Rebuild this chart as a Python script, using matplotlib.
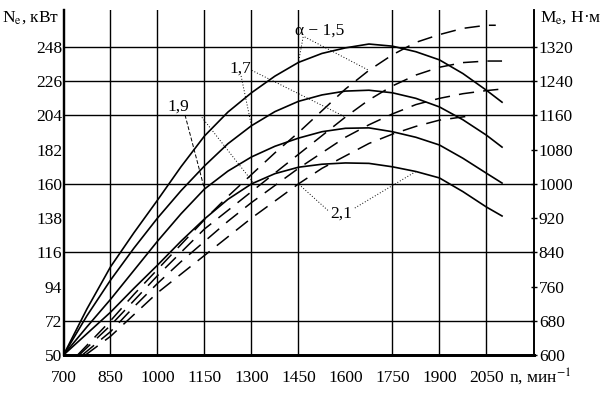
import matplotlib
matplotlib.use("Agg")
import matplotlib.pyplot as plt

plt.rcParams['font.family'] = ['Liberation Serif', 'DejaVu Serif']
plt.rcParams['mathtext.fontset'] = 'stix'

# effective torque M_e (solid, right axis), one curve per alpha
n_m = [700, 775, 850, 925, 1000, 1075, 1150, 1225, 1300, 1375,
       1450, 1525, 1600, 1675, 1750, 1825, 1900, 1975, 2050, 2100]
m_15 = [600, 708, 806, 886, 962, 1040, 1112, 1168, 1213, 1252,
        1284, 1305, 1318, 1327, 1322, 1309, 1290, 1258, 1219, 1191]
m_17 = [600, 692, 775, 850, 920, 984, 1042, 1094, 1136, 1169,
        1193, 1208, 1217, 1219, 1213, 1200, 1180, 1150, 1114, 1086]
m_19 = [600, 666, 730, 798, 866, 930, 988, 1030, 1063, 1088,
        1107, 1122, 1130, 1131, 1122, 1109, 1091, 1060, 1025, 1002]
m_21 = [600, 650, 700, 756, 810, 866, 918, 964, 1000, 1024,
        1039, 1046, 1049, 1048, 1040, 1029, 1014, 982, 946, 925]

# effective power N_e (dashed, left axis)
n_p15 = [745, 850, 925, 1000, 1075, 1150, 1225, 1300, 1375, 1450,
         1525, 1600, 1675, 1750, 1825, 1900, 1975, 2050, 2080]
p_15 = [50, 72, 89, 105, 121, 137, 152, 166, 180, 193,
        207, 221, 233, 243, 251, 256, 260, 262, 262]
n_p17 = [750, 850, 925, 1000, 1075, 1150, 1225, 1300, 1375, 1450,
         1525, 1600, 1675, 1750, 1825, 1900, 1975, 2050, 2100]
p_17 = [50, 69, 85, 101, 116, 131, 143, 155, 167, 179,
        191, 203, 214, 223, 230, 235, 238, 239, 239]
n_p19 = [760, 850, 925, 1000, 1075, 1150, 1225, 1300, 1375, 1450,
         1525, 1600, 1675, 1750, 1825, 1900, 1975, 2050, 2100]
p_19 = [50, 65, 81, 96, 110, 123, 136, 148, 159, 170,
        180, 190, 198, 205, 211, 215, 218, 220, 221]
n_p21 = [770, 850, 925, 1000, 1075, 1150, 1225, 1300, 1375, 1450,
         1525, 1600, 1675, 1750, 1825, 1900, 1990]
p_21 = [50, 62, 76, 90, 102, 114, 126, 138, 149, 160,
        170, 178, 186, 192, 197, 201, 203.5]

x_ticks = [700, 850, 1000, 1150, 1300, 1450, 1600, 1750, 1900, 2050]
x_grid = [850, 1000, 1150, 1300, 1450, 1750, 1900, 2050]
n_ticks = [50, 72, 94, 116, 138, 160, 182, 204, 226, 248]
n_grid = [72, 116, 160, 204, 226, 248]
m_ticks = [600, 680, 760, 840, 920, 1000, 1080, 1160, 1240, 1320]


def m2n(m):
    # torque scale -> power scale (both axes share the gridlines)
    return 50 + (m - 600) * 22 / 80


fig = plt.figure(figsize=(6.1, 3.96), dpi=100)
ax = fig.add_axes([0.1041, 0.1035, 0.7713, 0.8712])
ax.set_xlim(700, 2202)
ax.set_ylim(50, 271.8)

for x in x_grid:
    ax.axvline(x, color='black', lw=1.0, zorder=1)
for y in n_grid:
    ax.axhline(y, color='black', lw=1.0, zorder=1)

dash = dict(color='black', lw=1.1, dashes=[10, 6], zorder=3)
ax.plot(n_p15, p_15, **dash)
ax.plot(n_p17, p_17, **dash)
ax.plot(n_p19, p_19, **dash)
ax.plot(n_p21, p_21, **dash)

ax2 = ax.twinx()
ax2.set_ylim(600, 1406.5)
solid = dict(color='black', lw=1.2, zorder=3)
ax2.plot(n_m, m_15, **solid)
ax2.plot(n_m, m_17, **solid)
ax2.plot(n_m, m_19, **solid)
ax2.plot(n_m, m_21, **solid)

ax.set_xticks(x_ticks)
ax.set_yticks(n_ticks)
ax2.set_yticks(m_ticks)
ax.tick_params(axis='x', length=0, pad=11, labelsize=12.5)
ax.tick_params(axis='y', length=0, pad=1, labelsize=12.5)
ax2.tick_params(axis='y', length=4, direction='inout', width=1.0, pad=1.5, labelsize=12.5)

for a in (ax, ax2):
    a.spines['top'].set_visible(False)
    a.spines['bottom'].set_linewidth(2.0)
    a.spines['left'].set_linewidth(1.6)
    a.spines['right'].set_linewidth(1.2)

# curve labels and leaders
dot = dict(color='black', lw=0.7, ls=(0, (1, 2)))
i15 = n_m.index(1450)
ax.text(1518, 258.3, 'α − 1,5', fontsize=12.5, ha='center', va='center')
ax.plot([1465, n_m[i15]], [254.5, m2n(m_15[i15])], **dot)
j15 = n_p15.index(1675)
ax.plot([1470, n_p15[j15]], [254.5, p_15[j15]], **dot)

ax.text(1263, 233.9, '1,7', fontsize=12.5, ha='center', va='center')
j17 = n_p17.index(1600)
ax.plot([1301, n_p17[j17]], [233, p_17[j17]], **dot)
i17 = n_m.index(1300)
ax.plot([1267, n_m[i17]], [229.4, m2n(m_17[i17])], **dot)

ax.text(1068, 210, '1,9', fontsize=12.5, ha='center', va='center')
i19 = n_m.index(1150)
ax.plot([1088, n_m[i19]], [204.3, m2n(m_19[i19])], color='black', lw=0.7, dashes=[4, 2])
ax.plot([1136, 1305], [204.3, 161], **dot)

ax.text(1585, 141, '2,1', fontsize=12.5, ha='center', va='center')
j21 = n_p21.index(1450)
ax.plot([1544, n_p21[j21]], [143, p_21[j21]], **dot)
i21 = n_m.index(1825)
ax.plot([1630, n_m[i21]], [144.5, m2n(m_21[i21])], **dot)

fig.text(0.003, 0.955, r'N$_\mathrm{e}$, кВт', fontsize=12.5, ha='left', va='center')
fig.text(0.885, 0.955, r'M$_\mathrm{e}$, Н·м', fontsize=12.5, ha='left', va='center')
fig.text(0.834, 0.048, r'n, мин$^{-1}$', fontsize=12.5, ha='left', va='center')

fig.savefig('out.png', dpi=100)
